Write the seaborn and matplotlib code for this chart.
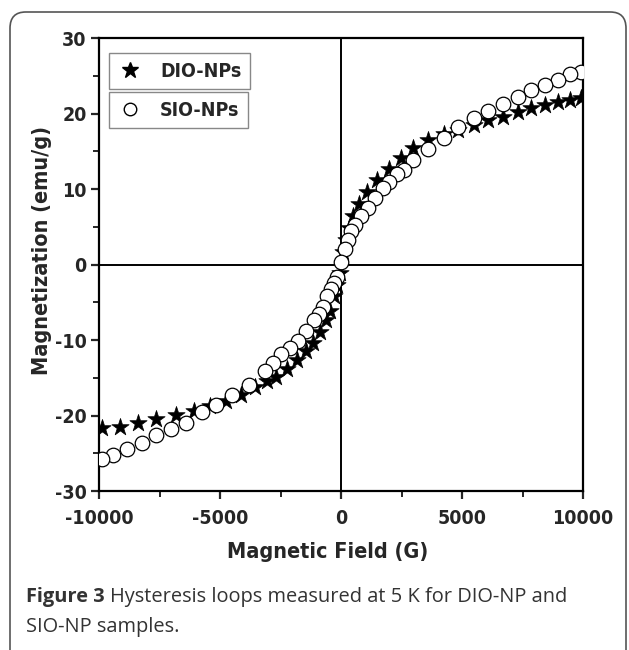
import numpy as np
import pandas as pd
import matplotlib.pyplot as plt
import seaborn as sns
from matplotlib.patches import FancyBboxPatch
from matplotlib.lines import Line2D

# DIO-NPs (stars)
dio_field = [9917, 9468, 8970, 8422, 7857, 7309, 6678, 6063, 5482, 4850, 4236, 3605,
             2990, 2492, 1993, 1495, 1080, 748, 498, 332, 200, 83, -33, -166, -300,
             -465, -631, -864, -1163, -1462, -1827, -2243, -2691, -3073, -3571, -4153,
             -4734, -5399, -6063, -6811, -7641, -8389, -9136, -9884]
dio_mag = [22.0, 21.8, 21.5, 21.1, 20.7, 20.2, 19.6, 19.1, 18.5, 17.8, 17.3, 16.5,
           15.4, 14.1, 12.7, 11.2, 9.6, 8.0, 6.4, 4.8, 3.2, 1.6, -1.1, -2.7, -4.2,
           -6.1, -7.4, -9.0, -10.4, -11.4, -12.7, -13.8, -14.9, -15.4, -16.2, -17.3,
           -18.1, -18.8, -19.4, -19.9, -20.4, -21.0, -21.5, -21.7]

# SIO-NPs (open circles)
sio_field = [9917, 9468, 8970, 8422, 7857, 7309, 6678, 6063, 5482, 4850, 4236, 3605,
             2990, 2608, 2326, 1993, 1744, 1412, 1130, 830, 581, 415, 300, 166, 0,
             -166, -300, -415, -581, -748, -914, -1113, -1462, -1794, -2126, -2492,
             -2791, -3156, -3821, -4485, -5150, -5764, -6395, -7027, -7641, -8223,
             -8837, -9435, -9884]
sio_mag = [25.5, 25.2, 24.4, 23.8, 23.1, 22.2, 21.3, 20.4, 19.4, 18.2, 16.7, 15.3,
           13.8, 12.5, 12.05, 10.9, 10.1, 8.8, 7.5, 6.4, 5.3, 4.5, 3.2, 2.1, 0.3,
           -1.6, -2.4, -3.2, -4.2, -5.6, -6.6, -7.4, -8.8, -10.1, -11.0, -11.9,
           -13.0, -14.1, -15.9, -17.3, -18.6, -19.6, -21.0, -21.8, -22.6, -23.6,
           -24.5, -25.2, -25.8]

dio = pd.DataFrame({"field": dio_field, "mag": dio_mag})
sio = pd.DataFrame({"field": sio_field, "mag": sio_mag})

sns.set_style("ticks")
plt.rcParams['font.family'] = ['DejaVu Sans']
plt.rcParams['font.stretch'] = 'condensed'
plt.rcParams['axes.unicode_minus'] = False

fig = plt.figure(figsize=(6.29, 6.5), dpi=100)
ax = fig.add_axes([0.1574, 0.2446, 0.7696, 0.6969])

# outer rounded frame
frame = FancyBboxPatch((10 / 629, -0.05), 616 / 629, 1.0 - 12 / 650 + 0.05,
                       boxstyle="round,pad=0,rounding_size=0.025",
                       transform=fig.transFigure, fill=False,
                       edgecolor="#555555", linewidth=1.2, clip_on=False)
fig.patches.append(frame)

ax.axhline(0, color="black", lw=1.4, zorder=1)
ax.axvline(0, color="black", lw=1.4, zorder=1)

sns.scatterplot(data=sio, x="field", y="mag", marker="o", s=110,
                facecolor="white", edgecolor="black", linewidth=0.9, ax=ax, zorder=3)
sns.scatterplot(data=dio, x="field", y="mag", marker="*", s=170,
                color="black", edgecolor="black", linewidth=0.5, ax=ax, zorder=2)

ax.set_xlim(-10000, 10000)
ax.set_ylim(-30, 30)
ax.set_xticks([-10000, -5000, 0, 5000, 10000])
ax.set_xticks([-7500, -2500, 2500, 7500], minor=True)
ax.set_yticks([-30, -20, -10, 0, 10, 20, 30])
ax.set_yticks([-25, -15, -5, 5, 15, 25], minor=True)

for sp in ax.spines.values():
    sp.set_linewidth(1.6)
    sp.set_color("black")

ax.tick_params(which="major", direction="out", length=6, width=1.6, labelsize=14)
ax.tick_params(axis="x", which="major", pad=7)
ax.tick_params(axis="y", which="major", pad=3)
ax.tick_params(which="minor", direction="out", length=4, width=1.4)
for lab in ax.get_xticklabels() + ax.get_yticklabels():
    lab.set_fontweight("bold")

ax.set_xlabel("Magnetic Field (G)", fontsize=15.5, fontweight="bold")
ax.xaxis.set_label_coords(0.473, -0.112)
ax.set_ylabel("Magnetization (emu/g)", fontsize=15.5, fontweight="bold")
ax.yaxis.set_label_coords(-0.098, 0.532)

h1 = Line2D([], [], marker="*", color="black", ls="none", markersize=12)
h2 = Line2D([], [], marker="o", markerfacecolor="white", markeredgecolor="black",
            ls="none", markersize=9)
leg_kw = dict(loc="upper left", borderaxespad=0, fancybox=False, edgecolor="#888888",
              framealpha=1, borderpad=0.45, handlelength=1.3, handletextpad=0.9,
              prop={"weight": "bold", "size": 14})
leg1 = ax.legend([h1], ["DIO-NPs"], bbox_to_anchor=(0.02, 0.967), **leg_kw)
ax.add_artist(leg1)
ax.legend([h2], ["SIO-NPs"], bbox_to_anchor=(0.02, 0.881), **leg_kw)

cap = dict(fontsize=14.4, color="#333333", va="center",
           family=["Open Sans", "DejaVu Sans"], fontstretch="normal")
fig.text(26 / 629, 1 - 597 / 650, "Figure 3", fontweight="bold", **cap)
fig.text(110 / 629, 1 - 597 / 650, "Hysteresis loops measured at 5 K for DIO-NP and", **cap)
fig.text(26 / 629, 1 - 627 / 650, "SIO-NP samples.", **cap)

fig.savefig("out.png", dpi=100)
